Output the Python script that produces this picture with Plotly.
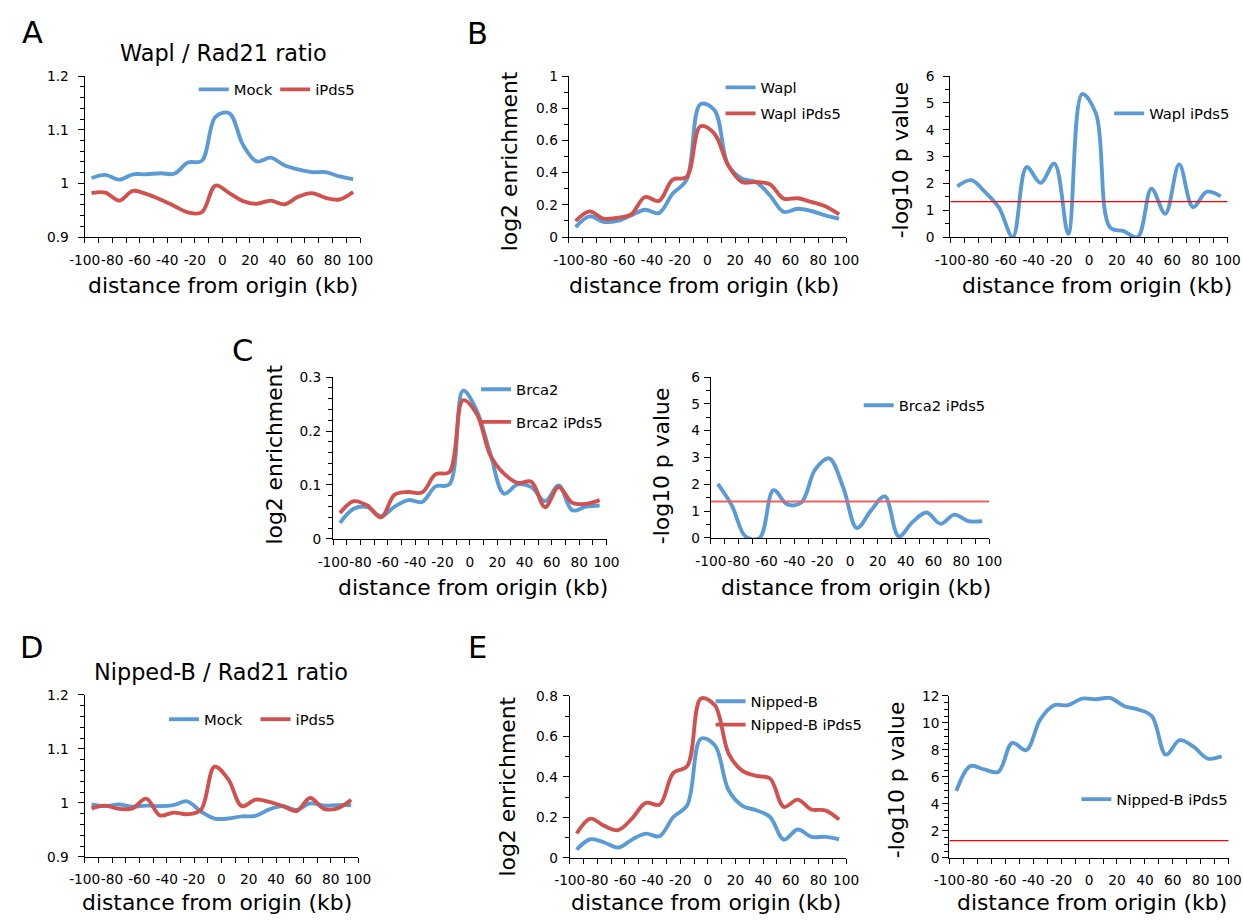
import plotly.graph_objects as go

# The page keeps the browser's default 8 px body margin and the captured page is fitted
# into the 1243x920 picture (scale S).  Positions below are given in picture pixels and
# converted to figure paper coordinates through that mapping.
FIG_W, FIG_H = 1256, 920
MARGIN = 8
S = 920 / (FIG_H + 2 * MARGIN)
FONT = "DejaVu Sans, Verdana, sans-serif"
BLUE = "#5B9BD5"
RED = "#D1514E"
SIG_RED = "#FF0000"

# ---------------- data ----------------
distance_kb = [-95, -85, -75, -65, -55, -45, -35, -25, -15, -5,
               5, 15, 25, 35, 45, 55, 65, 75, 85, 95]
x_tick_vals = [-100, -80, -60, -40, -20, 0, 20, 40, 60, 80, 100]
x_tick_text = ["-100", "-80", "-60", "-40", "-20", "0", "20", "40", "60", "80", "100"]

# A: Wapl / Rad21 ratio
wapl_rad21_mock = [1.010, 1.016, 1.007, 1.017, 1.017, 1.019, 1.018, 1.039, 1.042, 1.124,
                   1.131, 1.072, 1.041, 1.048, 1.034, 1.026, 1.021, 1.021, 1.013, 1.008]
wapl_rad21_ipds5 = [0.982, 0.983, 0.968, 0.986, 0.980, 0.970, 0.958, 0.946, 0.946, 0.996,
                    0.982, 0.967, 0.962, 0.968, 0.961, 0.975, 0.982, 0.973, 0.970, 0.984]

# B: Wapl log2 enrichment and p value
wapl_enrich = [0.062, 0.129, 0.095, 0.100, 0.135, 0.170, 0.149, 0.270, 0.355, 0.826,
               0.790, 0.446, 0.363, 0.342, 0.260, 0.156, 0.176, 0.162, 0.135, 0.114]
wapl_ipds5_enrich = [0.100, 0.160, 0.114, 0.120, 0.141, 0.249, 0.224, 0.357, 0.373, 0.688,
                     0.643, 0.446, 0.342, 0.342, 0.328, 0.239, 0.241, 0.218, 0.191, 0.141]
wapl_ipds5_pval = [1.89, 2.12, 1.68, 1.10, 0.00, 2.61, 2.02, 2.74, 0.12, 5.33,
                   4.60, 0.37, 0.22, 0.00, 1.80, 0.87, 2.71, 1.12, 1.69, 1.52]

# C: Brca2 log2 enrichment and p value
brca2_enrich = [0.030, 0.056, 0.059, 0.042, 0.060, 0.072, 0.0685, 0.0975, 0.101, 0.275,
                0.238, 0.158, 0.084, 0.101, 0.096, 0.070, 0.099, 0.053, 0.060, 0.062]
brca2_ipds5_enrich = [0.048, 0.070, 0.062, 0.040, 0.082, 0.087, 0.086, 0.120, 0.124, 0.257,
                      0.232, 0.155, 0.121, 0.104, 0.106, 0.059, 0.096, 0.067, 0.065, 0.072]
brca2_ipds5_pval = [2.02, 1.22, 0.05, 0.00, 1.78, 1.25, 1.32, 2.56, 2.97, 1.90,
                    0.37, 1.02, 1.55, 0.06, 0.60, 0.95, 0.53, 0.87, 0.63, 0.63]

# D: Nipped-B / Rad21 ratio
nippedb_rad21_mock = [0.997, 0.994, 0.997, 0.993, 0.995, 0.994, 0.996, 1.003, 0.984, 0.971,
                      0.971, 0.975, 0.976, 0.988, 0.994, 0.987, 0.999, 0.995, 0.996, 0.996]
nippedb_rad21_ipds5 = [0.990, 0.995, 0.989, 0.990, 1.008, 0.977, 0.982, 0.979, 0.987, 1.067,
                       1.044, 0.994, 1.006, 1.002, 0.994, 0.985, 1.009, 0.989, 0.990, 1.006]

# E: Nipped-B log2 enrichment and p value
nippedb_enrich = [0.041, 0.092, 0.076, 0.051, 0.090, 0.120, 0.107, 0.202, 0.260, 0.589,
                  0.556, 0.334, 0.257, 0.235, 0.202, 0.090, 0.140, 0.104, 0.104, 0.092]
nippedb_ipds5_enrich = [0.120, 0.194, 0.158, 0.137, 0.194, 0.272, 0.263, 0.420, 0.453, 0.787,
                        0.754, 0.515, 0.430, 0.405, 0.392, 0.252, 0.288, 0.239, 0.235, 0.189]
nippedb_ipds5_pval = [4.96, 6.80, 6.55, 6.37, 8.52, 7.98, 10.25, 11.31, 11.31, 11.80,
                      11.75, 11.85, 11.26, 11.00, 10.50, 7.65, 8.72, 8.22, 7.36, 7.53]

# significance thresholds (-log10 p)
sig_threshold_B = 1.32
sig_threshold_C = 1.36
sig_threshold_E = 1.28


# ---------------- layout helpers (picture pixel -> paper) ----------------
def fig_px(p):
    return p / S - MARGIN


def fx(p):
    return fig_px(p) / FIG_W


def fy(p):
    return 1 - fig_px(p) / FIG_H


def sz(v):
    return v / S


TICK = sz(13.5)
LEG = sz(14.5)
TITLE = sz(21.5)

# (picture box x0, x1, y_top, y_bottom), y range, y tick values, y tick text, minor dtick, label standoff
panels = [
    ((77, 354, 76, 237), [0.9, 1.2], [0.9, 1.0, 1.1, 1.2], ["0.9", "1", "1.1", "1.2"], 0.02, 6),
    ((564, 843, 76, 237), [0, 1], [0, 0.2, 0.4, 0.6, 0.8, 1.0], ["0", "0.2", "0.4", "0.6", "0.8", "1"], 0.1, 1),
    ((948, 1227, 76, 237), [0, 6], [0, 1, 2, 3, 4, 5, 6], ["0", "1", "2", "3", "4", "5", "6"], 0.5, 6),
    ((327, 602, 377, 539), [0, 0.3], [0, 0.1, 0.2, 0.3], ["0", "0.1", "0.2", "0.3"], 0.02, 2),
    ((707, 987, 377, 538), [0, 6], [0, 1, 2, 3, 4, 5, 6], ["0", "1", "2", "3", "4", "5", "6"], 0.5, 1),
    ((77, 352, 695, 857), [0.9, 1.2], [0.9, 1.0, 1.1, 1.2], ["0.9", "1", "1.1", "1.2"], 0.02, 6),
    ((565, 843, 696, 858), [0, 0.8], [0, 0.2, 0.4, 0.6, 0.8], ["0", "0.2", "0.4", "0.6", "0.8"], 0.1, 2),
    ((947, 1228, 696, 858), [0, 12], [0, 2, 4, 6, 8, 10, 12], ["0", "2", "4", "6", "8", "10", "12"], 0.5, 0),
]

fig = go.Figure()
layout = dict(
    width=FIG_W, height=FIG_H,
    margin=dict(l=0, r=0, t=0, b=0),
    paper_bgcolor="white", plot_bgcolor="white",
    font=dict(family=FONT, color="black", size=TICK),
    showlegend=True,
)

for i, (box, yr, ytv, ytt, ymin, stand) in enumerate(panels, start=1):
    x0, x1, yt, yb = box
    sfx = "" if i == 1 else str(i)
    layout["xaxis" + sfx] = dict(
        domain=[fx(x0), fx(x1)], range=[-100, 100], anchor="y" + sfx,
        tickmode="array", tickvals=x_tick_vals, ticktext=x_tick_text, tickangle=0,
        ticks="outside", ticklen=sz(5), tickwidth=1, tickcolor="black",
        showline=True, linecolor="black", linewidth=1,
        showgrid=False, zeroline=False, fixedrange=True,
        tickfont=dict(size=TICK, family=FONT, color="black"),
        ticklabelstandoff=int(round(sz(5))),
        minor=dict(tickmode="linear", tick0=-100, dtick=10, ticks="outside",
                   ticklen=sz(5), tickwidth=1, tickcolor="black", showgrid=False),
    )
    layout["yaxis" + sfx] = dict(
        domain=[fy(yb), fy(yt)], range=yr, anchor="x" + sfx,
        tickmode="array", tickvals=ytv, ticktext=ytt,
        ticks="outside", ticklen=sz(6), tickwidth=1, tickcolor="black",
        showline=True, linecolor="black", linewidth=1,
        showgrid=False, zeroline=False, fixedrange=True,
        tickfont=dict(size=TICK, family=FONT, color="black"),
        ticklabelstandoff=int(round(sz(stand))),
        minor=dict(tickmode="linear", tick0=yr[0], dtick=ymin, ticks="outside",
                   ticklen=sz(4), tickwidth=1, tickcolor="black", showgrid=False),
    )


def add_line(y, name, color, idx, legend, group=None):
    sfx = "" if idx == 1 else str(idx)
    fig.add_trace(go.Scatter(
        x=distance_kb, y=y, name=name, mode="lines",
        line=dict(color=color, width=sz(3.8), shape="spline", smoothing=1.0),
        xaxis="x" + sfx, yaxis="y" + sfx, legend=legend,
        legendgroup=group, hoverinfo="skip",
    ))


add_line(wapl_rad21_mock, "Mock", BLUE, 1, "legend")
add_line(wapl_rad21_ipds5, "iPds5", RED, 1, "legend")
add_line(wapl_enrich, "Wapl", BLUE, 2, "legend2", "g2a")
add_line(wapl_ipds5_enrich, "Wapl iPds5", RED, 2, "legend2", "g2b")
add_line(wapl_ipds5_pval, "Wapl iPds5", BLUE, 3, "legend3")
add_line(brca2_enrich, "Brca2", BLUE, 4, "legend4", "g4a")
add_line(brca2_ipds5_enrich, "Brca2 iPds5", RED, 4, "legend4", "g4b")
add_line(brca2_ipds5_pval, "Brca2 iPds5", BLUE, 5, "legend5")
add_line(nippedb_rad21_mock, "Mock", BLUE, 6, "legend6")
add_line(nippedb_rad21_ipds5, "iPds5", RED, 6, "legend6")
add_line(nippedb_enrich, "Nipped-B", BLUE, 7, "legend7", "g7a")
add_line(nippedb_ipds5_enrich, "Nipped-B iPds5", RED, 7, "legend7", "g7b")
add_line(nippedb_ipds5_pval, "Nipped-B iPds5", BLUE, 8, "legend8")

ITEM_H = 1.3 * LEG + 3  # plotly legend row height (figure px)


def legend_at(text_x, first_cy, horizontal=False, spacing=None, gap=0.0):
    # text_x / first_cy: picture px of the first entry's text start and row centre
    lx = fig_px(text_x) - 43
    ly = fig_px(first_cy) - (ITEM_H / 2 + 5)
    d = dict(x=lx / FIG_W, y=1 - ly / FIG_H, xanchor="left", yanchor="top",
             bgcolor="rgba(0,0,0,0)", borderwidth=0,
             font=dict(family=FONT, size=LEG, color="black"),
             tracegroupgap=float(gap))
    if horizontal:
        d["orientation"] = "h"
        d["entrywidth"] = float(sz(spacing) - 45)
        d["entrywidthmode"] = "pixels"
    return d


layout["legend"] = legend_at(229, 89, horizontal=True, spacing=80)
layout["legend2"] = legend_at(759, 87, gap=max(sz(25.5) - ITEM_H, 0))
layout["legend3"] = legend_at(1150, 113)
layout["legend4"] = legend_at(513, 389, gap=max(sz(32) - ITEM_H, 0))
layout["legend5"] = legend_at(898, 405)
layout["legend6"] = legend_at(199, 719, horizontal=True, spacing=90)
layout["legend7"] = legend_at(749, 701, gap=max(sz(23) - ITEM_H, 0))
layout["legend8"] = legend_at(1117, 799)

# significance threshold lines drawn in data coordinates
shapes = []
for idx, thr, col, wd in [(3, sig_threshold_B, SIG_RED, 1.3),
                          (5, sig_threshold_C, "#F06060", 2),
                          (8, sig_threshold_E, SIG_RED, 1.3)]:
    shapes.append(dict(type="line", xref="x%d" % idx, yref="y%d" % idx,
                       x0=-100, x1=100, y0=thr, y1=thr,
                       line=dict(color=col, width=wd), layer="above"))
layout["shapes"] = shapes

# text annotations
ann = []


def text_at(t, px, py, size, angle=0):
    ann.append(dict(text=t, x=fx(px), y=fy(py), xref="paper", yref="paper",
                    xanchor="center", yanchor="middle", showarrow=False,
                    textangle=angle, font=dict(family=FONT, size=size, color="black")))


# panel letters
for letter, px, py in [("A", 24.5, 32.6), ("B", 472.5, 33), ("C", 236, 350.6),
                       ("D", 23.5, 647.6), ("E", 472, 647.6)]:
    text_at(letter, px, py, sz(30))

# chart titles
text_at("Wapl / Rad21 ratio", 217, 52.4, sz(22))
text_at("Nipped-B / Rad21 ratio", 214, 672.4, sz(22))

# x-axis titles
XT = "distance from origin (kb)"
for px, py in [(216.5, 285.5), (700.5, 285.5), (1095.5, 285.5), (467.5, 587.6), (853.5, 587.6),
               (210.5, 903), (702.5, 903), (1090.5, 903)]:
    text_at(XT, px, py, TITLE)

# y-axis titles
for t, px, py in [("log2 enrichment", 504, 161), ("-log10 p value", 897.5, 160),
                  ("log2 enrichment", 267, 455), ("-log10 p value", 657.5, 465.5),
                  ("log2 enrichment", 502, 786.5), ("-log10 p value", 894.5, 780)]:
    text_at(t, px, py, TITLE, angle=-90)

layout["annotations"] = ann
fig.update_layout(**layout)
fig.write_html("out.html")
